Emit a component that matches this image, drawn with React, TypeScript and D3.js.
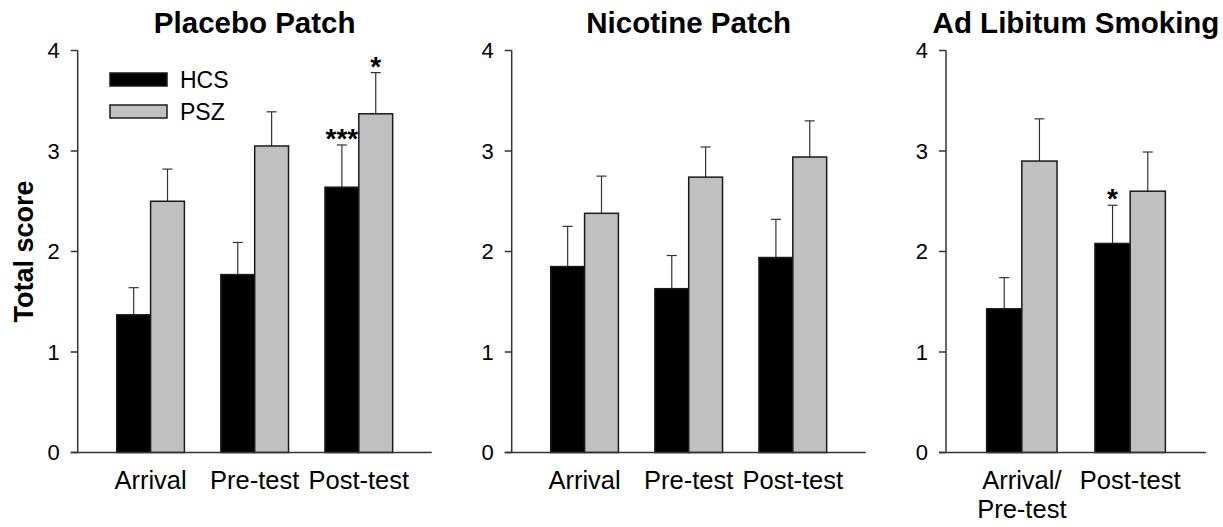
import React from "react";
import * as d3 from "d3";

// Categories per panel
const timeCats = ["Arrival", "Pre-test", "Post-test"];
const adLibCats = ["Arrival/\nPre-test", "Post-test"];
const groups = ["HCS", "PSZ"];

// Placebo patch
const placeboHCS = [1.37, 1.77, 2.64];
const placeboHCSErr = [0.27, 0.32, 0.42];
const placeboPSZ = [2.5, 3.05, 3.37];
const placeboPSZErr = [0.32, 0.34, 0.41];
const placeboHCSSig = ["", "", "***"];
const placeboPSZSig = ["", "", "*"];

// Nicotine patch
const nicotineHCS = [1.85, 1.63, 1.94];
const nicotineHCSErr = [0.4, 0.33, 0.38];
const nicotinePSZ = [2.38, 2.74, 2.94];
const nicotinePSZErr = [0.37, 0.3, 0.36];

// Ad libitum smoking
const adLibHCS = [1.43, 2.08];
const adLibHCSErr = [0.31, 0.38];
const adLibPSZ = [2.9, 2.6];
const adLibPSZErr = [0.42, 0.39];
const adLibHCSSig = ["", "*"];

const yTicks = [0, 1, 2, 3, 4];

const FONT = "Arial, 'Liberation Sans', sans-serif";
const fills: Record<string, string> = { HCS: "#000000", PSZ: "#c0c0c0" };

type PanelProps = {
  title: string;
  cats: string[];
  hcs: number[];
  hcsErr: number[];
  psz: number[];
  pszErr: number[];
  hcsSig?: string[];
  pszSig?: string[];
  x0: number;
  x1: number;
  legend?: boolean;
  yLabel?: boolean;
};

const Panel = ({ title, cats, hcs, hcsErr, psz, pszErr, hcsSig, pszSig, x0, x1, legend, yLabel }: PanelProps) => {
  const y = d3.scaleLinear().domain([0, 4]).range([452.5, 50.5]);
  const x = d3.scaleBand().domain(cats).range([x0, x1]).paddingInner(0.35).paddingOuter(0.375);
  const xs = d3.scaleBand().domain(groups).range([0, x.bandwidth()]);

  const series = [
    { key: "HCS", vals: hcs, errs: hcsErr, sig: hcsSig },
    { key: "PSZ", vals: psz, errs: pszErr, sig: pszSig },
  ];

  return (
    <g>
      <text x={(x0 + x1) / 2} y={33} textAnchor="middle" fontFamily={FONT} fontWeight="bold" fontSize={29.5}>
        {title}
      </text>

      {series.map((s) =>
        cats.map((c, i) => {
          const bx = (x(c) as number) + (xs(s.key) as number);
          const cx = bx + xs.bandwidth() / 2;
          const top = y(s.vals[i]);
          const et = y(s.vals[i] + s.errs[i]);
          return (
            <g key={s.key + c}>
              <line x1={cx} x2={cx} y1={top} y2={et} stroke="#333" strokeWidth={1.2} />
              <line x1={cx - 5} x2={cx + 5} y1={et} y2={et} stroke="#333" strokeWidth={1.2} />
              <rect
                x={bx}
                y={top}
                width={xs.bandwidth()}
                height={y(0) - top}
                fill={fills[s.key]}
                stroke="#1a1a1a"
                strokeWidth={1.5}
              />
              {s.sig && s.sig[i] ? (
                <text x={cx} y={et + 3} textAnchor="middle" fontFamily={FONT} fontWeight="bold" fontSize={28}>
                  {s.sig[i]}
                </text>
              ) : null}
            </g>
          );
        })
      )}

      {/* y axis */}
      <line x1={x0} x2={x0} y1={y(0)} y2={y(4)} stroke="#333" strokeWidth={1.5} />
      {yTicks.map((t) => (
        <g key={t}>
          <line x1={x0 - 7} x2={x0} y1={y(t)} y2={y(t)} stroke="#333" strokeWidth={1.5} />
          <text x={x0 - 18} y={y(t)} dy="0.36em" textAnchor="end" fontFamily={FONT} fontSize={22}>
            {t}
          </text>
        </g>
      ))}
      {/* x axis */}
      <line x1={x0 - 7} x2={x1} y1={y(0)} y2={y(0)} stroke="#333" strokeWidth={1.5} />
      {cats.map((c) => {
        const cx = (x(c) as number) + x.bandwidth() / 2;
        return (
          <text key={c} x={cx} y={489} textAnchor="middle" fontFamily={FONT} fontSize={25.5}>
            {c.split("\n").map((line, j) => (
              <tspan key={j} x={cx} dy={j === 0 ? 0 : 29}>
                {line}
              </tspan>
            ))}
          </text>
        );
      })}

      {yLabel ? (
        <text
          transform={`translate(33, ${y(2)}) rotate(-90)`}
          textAnchor="middle"
          fontFamily={FONT}
          fontWeight="bold"
          fontSize={27}
        >
          Total score
        </text>
      ) : null}

      {legend ? (
        <g>
          {groups.map((g, i) => (
            <g key={g} transform={`translate(110, ${73 + i * 32})`}>
              <rect width={57} height={13} fill={fills[g]} stroke="#1a1a1a" strokeWidth={1.5} />
              <text x={70} y={6.5} dy="0.36em" fontFamily={FONT} fontSize={23}>
                {g}
              </text>
            </g>
          ))}
        </g>
      ) : null}
    </g>
  );
};

export default function App() {
  return (
    <div style={{ position: "absolute", left: 0, top: 0 }}>
      <svg width={1223} height={527} style={{ display: "block", background: "#fff" }}>
        <Panel
          title="Placebo Patch"
          cats={timeCats}
          hcs={placeboHCS}
          hcsErr={placeboHCSErr}
          psz={placeboPSZ}
          pszErr={placeboPSZErr}
          hcsSig={placeboHCSSig}
          pszSig={placeboPSZSig}
          x0={77.7}
          x1={431.7}
          legend
          yLabel
        />
        <Panel
          title="Nicotine Patch"
          cats={timeCats}
          hcs={nicotineHCS}
          hcsErr={nicotineHCSErr}
          psz={nicotinePSZ}
          pszErr={nicotinePSZErr}
          x0={511.7}
          x1={865.7}
        />
        <Panel
          title="Ad Libitum Smoking"
          cats={adLibCats}
          hcs={adLibHCS}
          hcsErr={adLibHCSErr}
          psz={adLibPSZ}
          pszErr={adLibPSZErr}
          hcsSig={adLibHCSSig}
          x0={946}
          x1={1206}
        />
      </svg>
    </div>
  );
}
